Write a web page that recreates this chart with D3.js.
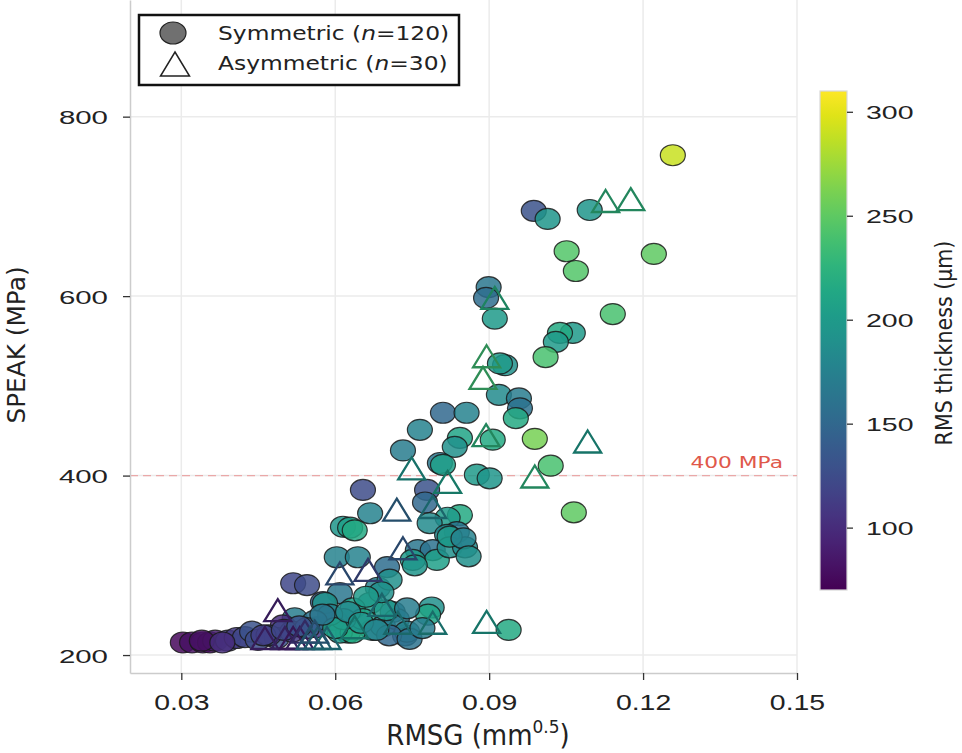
<!DOCTYPE html>
<html>
<head>
<meta charset="utf-8">
<script src="https://cdn.jsdelivr.net/npm/d3@7"></script>
<style>
  body { margin: 0; background: #fff; }
  svg { display: block; font-family: "DejaVu Sans", sans-serif; }
</style>
</head>
<body>
<svg id="chart" width="962" height="753"></svg>
<script>
// Symmetric specimens: RMSG (mm^0.5), SPEAK (MPa), RMS thickness (um)
var sym_rmsg = [
  0.1258, 0.0987, 0.1014, 0.1096, 0.1051, 0.1069, 0.1221, 0.1141, 0.0899, 0.0894,
  0.0911, 0.1063, 0.1038, 0.1030, 0.1010, 0.0931, 0.0921, 0.0919, 0.0958, 0.0960,
  0.0952, 0.0810, 0.0856, 0.0989, 0.0907, 0.1020, 0.1065, 0.0876, 0.0901, 0.0843,
  0.0833, 0.0765, 0.0732, 0.0804, 0.0810, 0.0779, 0.0654, 0.0775, 0.0668, 0.0843,
  0.0819, 0.0784, 0.0837, 0.0615, 0.0629, 0.0638, 0.0818, 0.0761, 0.0790, 0.0798,
  0.0823, 0.0751, 0.0603, 0.0644, 0.0701, 0.0518, 0.0545, 0.0683, 0.0706, 0.0609,
  0.0576, 0.0668, 0.0634, 0.0712, 0.0788, 0.0781, 0.0599, 0.0625, 0.0673, 0.0736,
  0.0521, 0.0498, 0.0938, 0.0303, 0.0321, 0.0342, 0.0356, 0.0366, 0.0391, 0.0408,
  0.0424, 0.0438, 0.0449, 0.0486, 0.0516, 0.0564, 0.0609, 0.0634, 0.0853, 0.0823,
  0.0580, 0.0654, 0.0693, 0.0720, 0.0700, 0.0616, 0.0590, 0.0740, 0.0690, 0.0560,
  0.0600, 0.0740, 0.0705, 0.0470, 0.0545, 0.0625, 0.0660, 0.0755, 0.0850, 0.0860,
  0.0340, 0.0380, 0.0460, 0.0500, 0.0530, 0.0575, 0.0650, 0.0680, 0.0745, 0.0770
];
var sym_speak = [
  757, 695, 686, 696, 650, 628, 647, 580, 610, 598,
  575, 559, 559, 549, 532, 523, 525, 490, 486, 475,
  464, 470, 470, 441, 440, 411, 359, 401, 397, 442,
  432, 451, 428, 414, 412, 384, 384, 370, 358, 356,
  353, 347, 337, 343, 342, 339, 334, 317, 317, 306,
  320, 306, 309, 309, 298, 280, 278, 275, 284, 269,
  259, 258, 252, 248, 253, 245, 239, 225, 228, 222,
  241, 233, 228, 214, 214, 214, 214, 216, 216, 219,
  220, 226, 217, 219, 226, 231, 225, 225, 320, 332,
  258, 240, 232, 240, 250, 240, 245, 252, 270, 238,
  230, 226, 222, 222, 230, 248, 265, 300, 330, 310,
  216, 214, 222, 228, 232, 245, 236, 228, 218, 230
];
var sym_thick = [
  290, 130, 195, 195, 245, 245, 250, 240, 165, 155,
  200, 200, 215, 200, 240, 190, 200, 185, 170, 160,
  215, 150, 175, 260, 215, 240, 250, 200, 195, 210,
  190, 175, 170, 165, 205, 130, 125, 150, 175, 215,
  200, 185, 165, 195, 205, 215, 180, 165, 160, 205,
  190, 200, 175, 175, 155, 120, 125, 175, 190, 165,
  140, 200, 205, 160, 190, 210, 145, 210, 165, 150,
  170, 100, 215, 75, 80, 85, 78, 90, 115, 110,
  120, 130, 125, 130, 110, 110, 200, 215, 185, 200,
  195, 210, 180, 170, 200, 185, 175, 170, 190, 160,
  205, 175, 150, 120, 140, 185, 200, 195, 175, 190,
  80, 100, 115, 120, 130, 165, 195, 180, 160, 170
];

// Asymmetric specimens
var asym_rmsg = [
  0.1127, 0.1176, 0.0911, 0.0895, 0.0888, 0.0894, 0.1092, 0.0989, 0.0749, 0.0819,
  0.0720, 0.0790, 0.0732, 0.0609, 0.0664, 0.0691, 0.0722, 0.0790, 0.0638, 0.0895,
  0.0488, 0.0463, 0.0502, 0.0518, 0.0531, 0.0541, 0.0551, 0.0566, 0.0584, 0.0560
];
var asym_speak = [
  706, 708, 598, 533, 509, 445, 438, 399, 408, 393,
  362, 365, 319, 291, 295, 256, 236, 236, 231, 237,
  250, 219, 219, 219, 219, 226, 219, 219, 219, 226
];
var asym_thick = [
  225, 225, 220, 235, 235, 225, 200, 225, 195, 205,
  150, 180, 140, 140, 125, 180, 185, 190, 195, 200,
  95, 95, 100, 90, 95, 110, 160, 165, 175, 150
];

var x_ticks = [0.03, 0.06, 0.09, 0.12, 0.15];
var y_ticks = [200, 400, 600, 800];
var cbar_ticks = [100, 150, 200, 250, 300];
var threshold = 400;

var svg = d3.select('#chart');
var plot_left = 130, plot_right = 797, plot_top = 0, plot_bottom = 673;

var x = d3.scaleLinear().domain([0.02, 0.15]).range([plot_left, plot_right]);
var y = d3.scaleLinear().domain([180, 930]).range([plot_bottom, plot_top]);
var color = d3.scaleSequential(d3.interpolateViridis).domain([70, 310]);

// Grid
var grid = svg.append('g');
grid.selectAll('.vg').data(x_ticks).enter().append('line')
    .attr('x1', function (d) { return x(d); }).attr('x2', function (d) { return x(d); })
    .attr('y1', plot_top).attr('y2', plot_bottom)
    .attr('stroke', '#ebebeb').attr('stroke-width', 1.5);
grid.selectAll('.hg').data(y_ticks).enter().append('line')
    .attr('x1', plot_left).attr('x2', plot_right)
    .attr('y1', function (d) { return y(d); }).attr('y2', function (d) { return y(d); })
    .attr('stroke', '#ebebeb').attr('stroke-width', 1.5);

// Threshold line
svg.append('line')
    .attr('x1', plot_left).attr('x2', plot_right)
    .attr('y1', y(threshold)).attr('y2', y(threshold))
    .attr('stroke', '#eaa8a8').attr('stroke-width', 1.3)
    .attr('stroke-dasharray', '8,5');
svg.append('text')
    .attr('transform', 'translate(783,' + (y(threshold) - 8) + ') scale(1.45,1.05)')
    .attr('text-anchor', 'end')
    .attr('font-size', 15)
    .attr('fill', '#e0584a')
    .text('400 MPa');

// Axes
var xAxis = svg.append('g')
    .attr('transform', 'translate(0,' + plot_bottom + ')')
    .call(d3.axisBottom(x).tickValues(x_ticks).tickFormat(d3.format('.2f')).tickSize(7).tickSizeOuter(0));
var yAxis = svg.append('g')
    .attr('transform', 'translate(' + plot_left + ',0)')
    .call(d3.axisLeft(y).tickValues(y_ticks).tickSize(7).tickSizeOuter(0));
[xAxis, yAxis].forEach(function (a) {
    a.select('.domain').attr('stroke', '#cccccc').attr('stroke-width', 1.5);
    a.selectAll('.tick line').attr('stroke', '#333').attr('stroke-width', 1.3);
});
xAxis.selectAll('.tick text')
    .attr('y', null).attr('dy', null)
    .attr('font-size', 20).attr('fill', '#222')
    .attr('transform', 'translate(0,37) scale(1.42,1.08)');
yAxis.selectAll('.tick text')
    .attr('x', null).attr('dy', null)
    .attr('font-size', 19).attr('fill', '#222')
    .attr('transform', 'translate(-22,7) scale(1.55,1)');

// Axis titles
var xlab = svg.append('text')
    .attr('transform', 'translate(478,745) scale(1,1.06)')
    .attr('text-anchor', 'middle')
    .attr('font-size', 26).attr('fill', '#222');
xlab.append('tspan').text('RMSG (mm');
xlab.append('tspan').attr('font-size', 17).attr('dy', -11).text('0.5');
xlab.append('tspan').attr('dy', 11).text(')');
svg.append('text')
    .attr('transform', 'translate(25,345) rotate(-90) scale(1.18,1.2)')
    .attr('text-anchor', 'middle')
    .attr('font-size', 21).attr('fill', '#222')
    .text('SPEAK (MPa)');

// Symmetric circles
var sym = sym_rmsg.map(function (d, i) { return { x: d, y: sym_speak[i], t: sym_thick[i] }; });
svg.append('g').selectAll('ellipse').data(sym).enter().append('ellipse')
    .attr('cx', function (d) { return x(d.x); })
    .attr('cy', function (d) { return y(d.y); })
    .attr('rx', 12.5).attr('ry', 10.5)
    .attr('fill', function (d) { return color(d.t); })
    .attr('fill-opacity', 0.85)
    .attr('stroke', '#1a1a1a').attr('stroke-opacity', 0.85).attr('stroke-width', 1.2);

// Asymmetric triangles
var asym = asym_rmsg.map(function (d, i) { return { x: d, y: asym_speak[i], t: asym_thick[i] }; });
function tri(cx, cy, w, h) {
    return 'M' + cx + ',' + (cy - h / 2) + 'L' + (cx + w / 2) + ',' + (cy + h / 2) +
        'L' + (cx - w / 2) + ',' + (cy + h / 2) + 'Z';
}
svg.append('g').selectAll('path').data(asym).enter().append('path')
    .attr('d', function (d) { return tri(x(d.x), y(d.y), 27, 22); })
    .attr('fill', 'none')
    .attr('stroke', function (d) { return d3.interpolateRgb(color(d.t), '#000')(0.25); })
    .attr('stroke-width', 2.3)
    .attr('stroke-linejoin', 'miter');

// Colorbar
var cb_left = 820, cb_w = 27, cb_top = 91, cb_bottom = 590;
var cbar_y = d3.scaleLinear().domain([70, 310]).range([cb_bottom, cb_top]);
var defs = svg.append('defs');
var grad = defs.append('linearGradient').attr('id', 'vir')
    .attr('x1', 0).attr('y1', 1).attr('x2', 0).attr('y2', 0);
d3.range(0, 1.0001, 0.05).forEach(function (t) {
    grad.append('stop').attr('offset', t).attr('stop-color', d3.interpolateViridis(t));
});
svg.append('rect')
    .attr('x', cb_left).attr('y', cb_top).attr('width', cb_w).attr('height', cb_bottom - cb_top)
    .attr('fill', 'url(#vir)').attr('stroke', '#d8d8d8').attr('stroke-width', 1.2);
var cbAxis = svg.append('g')
    .attr('transform', 'translate(' + (cb_left + cb_w) + ',0)')
    .call(d3.axisRight(cbar_y).tickValues(cbar_ticks).tickSize(6).tickSizeOuter(0));
cbAxis.select('.domain').remove();
cbAxis.selectAll('.tick line').attr('stroke', '#333').attr('stroke-width', 1.3);
cbAxis.selectAll('.tick text')
    .attr('x', null).attr('dy', null)
    .attr('font-size', 19).attr('fill', '#222')
    .attr('transform', 'translate(19,7) scale(1.5,1)');
svg.append('text')
    .attr('transform', 'translate(952,343) rotate(-90) scale(1.085,1.2)')
    .attr('text-anchor', 'middle')
    .attr('font-size', 19).attr('fill', '#222')
    .text('RMS thickness (\u03bcm)');

// Legend
var lg = svg.append('g');
lg.append('rect').attr('x', 139).attr('y', 15).attr('width', 320).attr('height', 70)
    .attr('fill', '#fff').attr('stroke', '#111').attr('stroke-width', 2.5);
lg.append('ellipse').attr('cx', 173).attr('cy', 33).attr('rx', 13).attr('ry', 11)
    .attr('fill', '#707070').attr('stroke', '#222').attr('stroke-width', 1.2);
lg.append('path').attr('d', tri(175, 64, 29, 24))
    .attr('fill', 'none').attr('stroke', '#222').attr('stroke-width', 1.5);
var legend_items = [['Symmetric (', '=120)'], ['Asymmetric (', '=30)']];
legend_items.forEach(function (it, i) {
    var t = lg.append('text')
        .attr('transform', 'translate(218,' + (40 + i * 30) + ') scale(1.23,1)')
        .attr('font-size', 19).attr('fill', '#222');
    t.append('tspan').text(it[0]);
    t.append('tspan').attr('font-style', 'italic').text('n');
    t.append('tspan').text(it[1]);
});
</script>
</body>
</html>
